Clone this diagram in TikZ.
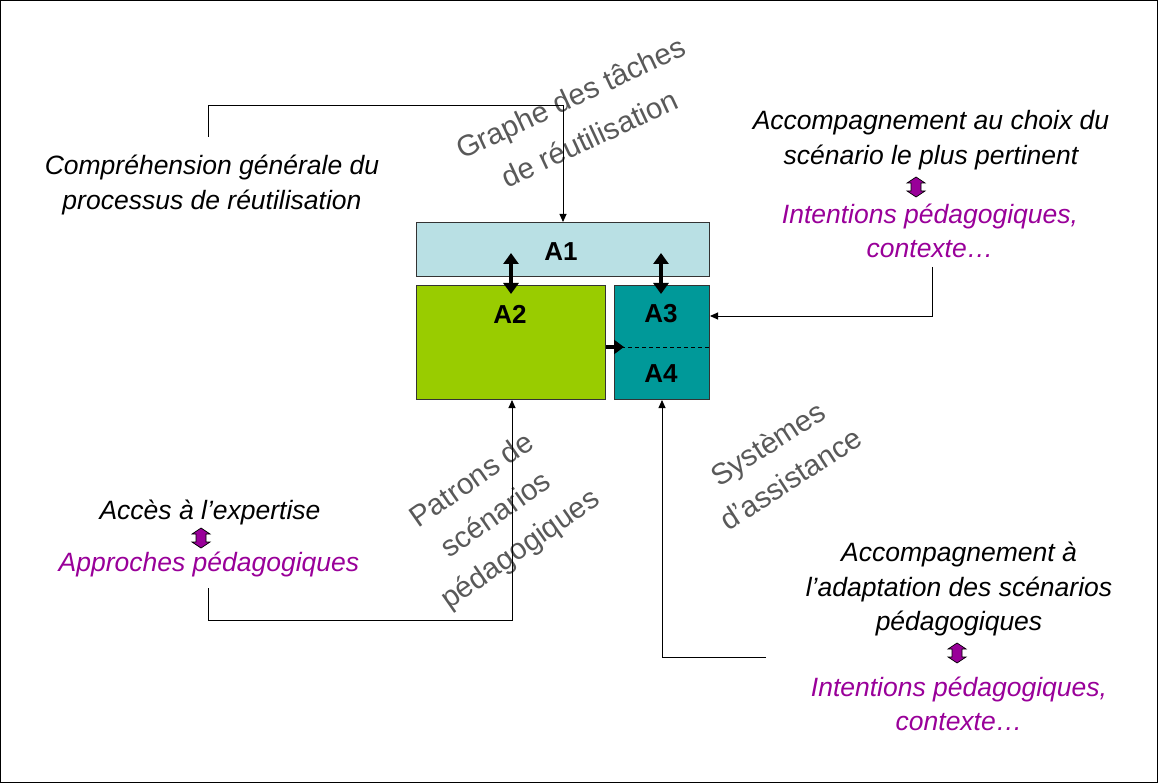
\documentclass[tikz,border=0pt]{standalone}
\usepackage{fontspec}
\setmainfont{Liberation Sans}
\usetikzlibrary{arrows.meta}
\definecolor{boxA1}{HTML}{B9E0E4}
\definecolor{boxA2}{HTML}{99CC00}
\definecolor{boxA3}{HTML}{009999}
\definecolor{mypurple}{HTML}{990099}
\definecolor{mygray}{HTML}{595959}
\tikzset{
  blk/.style={draw=black!80, line width=1pt, anchor=north west, inner sep=0pt},
  lbl/.style={font=\fontsize{26}{30}\selectfont\bfseries, text=black},
  txt/.style={font=\fontsize{26.5}{34.5}\selectfont\itshape, align=center, inner sep=0pt},
  ptxt/.style={txt, text=mypurple},
  gtxt/.style={font=\fontsize{29.5}{42}\selectfont, text=mygray, align=center, inner sep=0pt},
  conn/.style={draw=black, line width=0.9pt},
  connarr/.style={conn, -{Triangle[length=8pt,width=7pt]}},
  fatarr/.style={draw=black, line width=3.5pt, {Triangle[length=11pt,width=15pt]}-{Triangle[length=11pt,width=15pt]}},
  purparrow/.pic={\draw[fill=mypurple, line width=0.7pt, line join=miter]
    (0,-10)--(9,-4)--(5,-4)--(5,4)--(9,4)--(0,10)--(-9,4)--(-5,4)--(-5,-4)--(-9,-4)--cycle;}
}
\begin{document}
\begin{tikzpicture}[x=1pt,y=-1pt]
\useasboundingbox (0,0) rectangle (1158,783);
\draw[line width=1pt] (0.5,0.5) rectangle (1157.5,782.5);

% boxes
\node[blk, fill=boxA1, minimum width=293pt, minimum height=54pt] (A1) at (416,222) {};
\node[blk, fill=boxA2, minimum width=189pt, minimum height=114pt] (A2) at (416,285) {};
\node[blk, fill=boxA3, minimum width=95pt, minimum height=114pt] (A34) at (614,285) {};
\node[lbl] (tA1) at (561,252) {A1};
\node[lbl] (tA2) at (510,314) {A2};
\node[lbl] (tA3) at (661,314) {A3};
\node[lbl] (tA4) at (661,374) {A4};
\coordinate (dashL) at (614,347);
\coordinate (dashR) at (709,347);
\draw[line width=0.8pt, dash pattern=on 4pt off 3pt] (dashL) -- (dashR);

% thick arrows
\draw[fatarr] (511,253) -- (511,294);
\draw[fatarr] (661,253) -- (661,294);
\draw[line width=3.5pt, -{Triangle[length=10pt,width=14pt]}] (A2.east |- dashL) -- (624,347);

% texts
\node[txt] (comp) at (212,185) {Compréhension générale du\\processus de réutilisation};
\node[txt] (acc1) at (931,140) {Accompagnement au choix du\\scénario le plus pertinent};
\pic at (916,187) {purparrow};
\node[ptxt] (int1) at (930,231) {Intentions pédagogiques,\\contexte…};

\node[txt] (acces) at (210,512) {Accès à l’expertise};
\pic at (201,538) {purparrow};
\node[ptxt] (appr) at (209,564) {Approches pédagogiques};

\node[txt] (acc2) at (959,589) {Accompagnement à\\l’adaptation des scénarios\\pédagogiques};
\pic at (957,653) {purparrow};
\node[ptxt] (int2) at (959,704) {Intentions pédagogiques,\\contexte…};

\node[gtxt, font=\fontsize{29.5}{45}\selectfont, rotate=25] (graphe) at (580,118) {Graphe des tâches\\de réutilisation};
\node[gtxt, rotate=35] (patrons) at (497,516) {Patrons de\\scénarios\\pédagogiques};
\node[gtxt, rotate=33] (syst) at (779,461) {Systèmes\\d’assistance};

% connectors
\coordinate (c1s) at (208,137);
\coordinate (c1a) at (208,105);
\coordinate (c1b) at (563,105);
\draw[connarr] (c1s) -- (c1a) -- (c1b) -- (c1b |- A1.north);

\coordinate (c2s) at (932,267);
\coordinate (c2a) at (932,316);
\draw[connarr] (c2s) -- (c2a) -- (A34.east |- c2a);

\coordinate (c3s) at (208,588);
\coordinate (c3a) at (208,620);
\coordinate (c3b) at (512,620);
\draw[connarr] (c3s) -- (c3a) -- (c3b) -- (c3b |- A2.south);

\coordinate (c4s) at (766,657);
\coordinate (c4a) at (662,657);
\draw[connarr] (c4s) -- (c4a) -- (c4a |- A34.south);
\end{tikzpicture}
\end{document}
